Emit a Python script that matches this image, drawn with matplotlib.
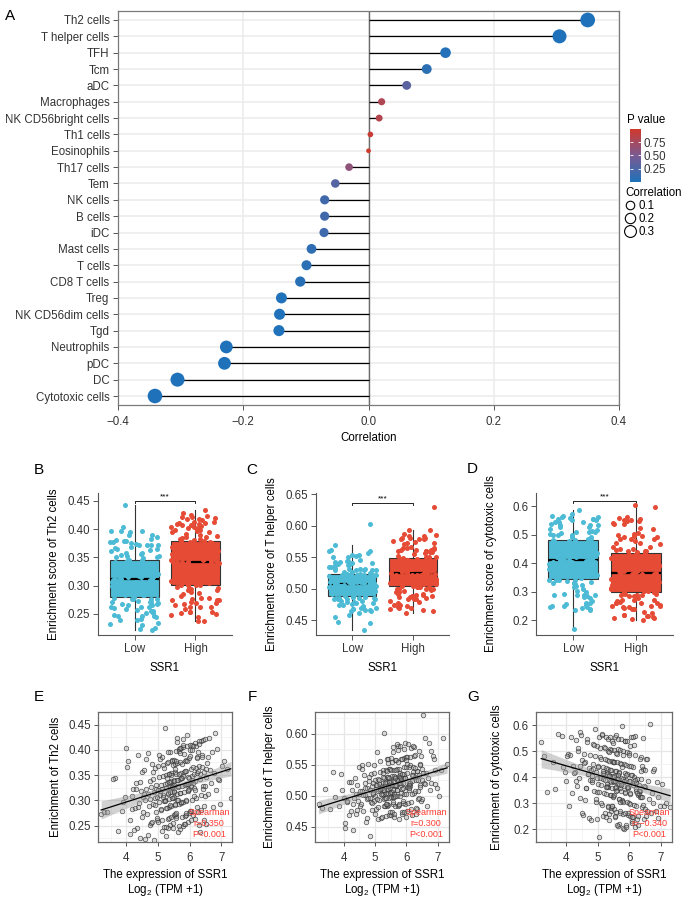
import numpy as np
import matplotlib
matplotlib.use("Agg")
import matplotlib.pyplot as plt
from matplotlib.colors import LinearSegmentedColormap
from matplotlib.lines import Line2D

plt.rcParams["font.family"] = ["Liberation Sans", "DejaVu Sans"]
plt.rcParams["font.size"] = 8.3
plt.rcParams["mathtext.fontset"] = "custom"
plt.rcParams["mathtext.rm"] = "Liberation Sans"
plt.rcParams["mathtext.it"] = "Liberation Sans"

# --- panel A : correlation of SSR1 with immune cells ---
cells = ["Th2 cells", "T helper cells", "TFH", "Tcm", "aDC", "Macrophages",
         "NK CD56bright cells", "Th1 cells", "Eosinophils", "Th17 cells", "Tem",
         "NK cells", "B cells", "iDC", "Mast cells", "T cells", "CD8 T cells",
         "Treg", "NK CD56dim cells", "Tgd", "Neutrophils", "pDC", "DC",
         "Cytotoxic cells"]
cell_corr = [0.350, 0.305, 0.123, 0.093, 0.061, 0.021, 0.017, 0.003, 0.000,
             -0.031, -0.053, -0.070, -0.070, -0.071, -0.091, -0.099, -0.109,
             -0.139, -0.142, -0.143, -0.227, -0.230, -0.305, -0.341]
cell_pval = [0.000, 0.000, 0.018, 0.070, 0.33, 0.80, 0.83, 0.95, 0.99,
             0.62, 0.30, 0.18, 0.18, 0.17, 0.09, 0.07, 0.05,
             0.007, 0.006, 0.006, 0.000, 0.000, 0.000, 0.000]

# --- SSR1 expression (log2 TPM+1), split at the median ---
ssr1_low = [
    3.20, 3.30, 3.65, 3.85, 3.95, 4.00, 4.05, 4.12, 4.18, 4.22,
    4.26, 4.30, 4.33, 4.37, 4.40, 4.42, 4.45, 4.48, 4.50, 4.53,
    4.55, 4.58, 4.60, 4.62, 4.65, 4.67, 4.69, 4.71, 4.73, 4.75,
    4.77, 4.79, 4.81, 4.83, 4.85, 4.86, 4.88, 4.90, 4.91, 4.93,
    4.95, 4.96, 4.98, 4.99, 5.01, 5.02, 5.04, 5.05, 5.06, 5.08,
    5.09, 5.11, 5.12, 5.13, 5.15, 5.16, 5.17, 5.19, 5.20, 5.21,
    5.22, 5.23, 5.24, 5.25, 5.26, 5.27, 5.28, 5.29, 5.30, 5.31,
    5.32, 5.33, 5.34, 5.34, 5.35, 5.36, 5.37, 5.38, 5.38, 5.39,
    5.40, 5.41, 5.42, 5.42, 5.43, 5.44, 5.45, 5.46, 5.46, 5.47,
    5.48, 5.49, 5.50, 5.50, 5.51, 5.52, 5.53, 5.54, 5.55, 5.56,
    3.40, 3.58, 3.72, 3.90, 4.03, 4.10, 4.16, 4.24, 4.31, 4.38,
    4.44, 4.51, 4.57, 4.63, 4.68, 4.74, 4.80, 4.84, 4.89, 4.94,
    4.97, 5.00, 5.03, 5.07, 5.10, 5.14, 5.18, 5.22, 5.25, 5.28,
    5.30, 5.33, 5.35, 5.37, 5.39, 5.41, 5.43, 5.45, 5.47, 5.49,
    5.51, 5.52, 5.53, 5.54, 5.55, 5.56, 5.44, 5.36, 5.26, 5.16]
ssr1_high = [
    5.57, 5.58, 5.59, 5.60, 5.61, 5.62, 5.63, 5.64, 5.65, 5.66,
    5.67, 5.68, 5.69, 5.70, 5.71, 5.72, 5.73, 5.74, 5.75, 5.76,
    5.77, 5.78, 5.79, 5.80, 5.81, 5.82, 5.83, 5.84, 5.85, 5.86,
    5.87, 5.88, 5.89, 5.90, 5.91, 5.92, 5.93, 5.94, 5.95, 5.96,
    5.97, 5.98, 5.99, 6.00, 6.01, 6.03, 6.04, 6.06, 6.08, 6.09,
    6.11, 6.13, 6.14, 6.16, 6.18, 6.19, 6.21, 6.23, 6.25, 6.27,
    6.29, 6.31, 6.33, 6.35, 6.37, 6.39, 6.41, 6.43, 6.45, 6.47,
    6.49, 6.51, 6.53, 6.56, 6.59, 6.62, 6.65, 6.68, 6.71, 6.74,
    6.77, 6.80, 6.84, 6.88, 6.92, 6.97, 7.03, 7.10, 7.18, 7.30,
    5.60, 5.70, 5.80, 5.90, 6.02, 6.12, 6.22, 6.32, 6.42, 6.52,
    5.57, 5.59, 5.61, 5.63, 5.65, 5.67, 5.69, 5.71, 5.73, 5.75,
    5.78, 5.81, 5.84, 5.87, 5.90, 5.93, 5.96, 5.99, 6.02, 6.05,
    6.08, 6.12, 6.15, 6.20, 6.24, 6.28, 6.34, 6.38, 6.44, 6.50,
    6.03, 6.10, 6.18, 6.22, 6.30, 6.36, 6.40, 6.46, 6.58, 6.90,
    5.58, 5.64, 5.72, 5.79, 5.86, 5.94, 6.00, 6.07, 6.17, 6.26]

# --- enrichment scores (same samples, same order) ---
th2_low = [
    0.272, 0.276, 0.344, 0.279, 0.306, 0.404, 0.377, 0.234, 0.283, 0.322,
    0.284, 0.334, 0.246, 0.389, 0.295, 0.225, 0.318, 0.356, 0.268, 0.307,
    0.361, 0.300, 0.224, 0.323, 0.273, 0.394, 0.312, 0.289, 0.339, 0.251,
    0.255, 0.327, 0.372, 0.293, 0.343, 0.316, 0.222, 0.304, 0.365, 0.277,
    0.330, 0.262, 0.307, 0.368, 0.258, 0.346, 0.296, 0.381, 0.319, 0.280,
    0.283, 0.386, 0.322, 0.261, 0.371, 0.310, 0.349, 0.248, 0.299, 0.333,
    0.443, 0.301, 0.351, 0.324, 0.230, 0.285, 0.373, 0.335, 0.263, 0.312,
    0.314, 0.375, 0.287, 0.353, 0.303, 0.265, 0.326, 0.396, 0.337, 0.252,
    0.355, 0.267, 0.339, 0.289, 0.379, 0.377, 0.316, 0.328, 0.245, 0.305,
    0.256, 0.330, 0.307, 0.318, 0.379, 0.341, 0.291, 0.357, 0.363, 0.269,
    0.276, 0.342, 0.240, 0.297, 0.367, 0.262, 0.308, 0.242, 0.322, 0.287,
    0.337, 0.277, 0.312, 0.382, 0.232, 0.302, 0.257, 0.357, 0.291, 0.323,
    0.265, 0.320, 0.390, 0.310, 0.331, 0.240, 0.365, 0.299, 0.285, 0.345,
    0.396, 0.246, 0.337, 0.291, 0.316, 0.351, 0.305, 0.326, 0.371, 0.271,
    0.317, 0.338, 0.292, 0.372, 0.272, 0.397, 0.327, 0.352, 0.247, 0.306]
th2_high = [
    0.265, 0.353, 0.423, 0.313, 0.374, 0.340, 0.238, 0.326, 0.401, 0.292,
    0.398, 0.315, 0.376, 0.342, 0.244, 0.294, 0.403, 0.355, 0.267, 0.328,
    0.344, 0.296, 0.405, 0.250, 0.357, 0.317, 0.392, 0.269, 0.330, 0.378,
    0.380, 0.271, 0.359, 0.298, 0.429, 0.407, 0.332, 0.346, 0.258, 0.319,
    0.322, 0.383, 0.274, 0.388, 0.335, 0.262, 0.362, 0.410, 0.301, 0.349,
    0.270, 0.352, 0.325, 0.338, 0.413, 0.365, 0.304, 0.386, 0.396, 0.277,
    0.369, 0.252, 0.342, 0.417, 0.281, 0.390, 0.329, 0.420, 0.356, 0.308,
    0.422, 0.347, 0.254, 0.374, 0.313, 0.424, 0.361, 0.334, 0.395, 0.286,
    0.354, 0.433, 0.320, 0.402, 0.341, 0.293, 0.368, 0.378, 0.362, 0.305,
    0.301, 0.404, 0.349, 0.274, 0.410, 0.335, 0.383, 0.237, 0.322, 0.362,
    0.274, 0.340, 0.416, 0.328, 0.353, 0.249, 0.394, 0.315, 0.296, 0.372,
    0.421, 0.254, 0.358, 0.301, 0.333, 0.377, 0.320, 0.345, 0.399, 0.279,
    0.341, 0.366, 0.309, 0.407, 0.287, 0.418, 0.353, 0.385, 0.262, 0.328,
    0.329, 0.408, 0.263, 0.354, 0.412, 0.310, 0.367, 0.288, 0.386, 0.342,
    0.377, 0.301, 0.345, 0.409, 0.254, 0.333, 0.279, 0.399, 0.320, 0.358]
thelper_low = [
    0.486, 0.480, 0.539, 0.484, 0.510, 0.496, 0.447, 0.490, 0.522, 0.476,
    0.509, 0.445, 0.497, 0.529, 0.471, 0.517, 0.491, 0.546, 0.503, 0.483,
    0.487, 0.550, 0.507, 0.475, 0.533, 0.501, 0.521, 0.458, 0.495, 0.513,
    0.552, 0.497, 0.523, 0.509, 0.435, 0.489, 0.535, 0.515, 0.477, 0.503,
    0.505, 0.537, 0.491, 0.525, 0.499, 0.479, 0.511, 0.570, 0.517, 0.462,
    0.527, 0.481, 0.519, 0.493, 0.556, 0.539, 0.507, 0.513, 0.464, 0.501,
    0.466, 0.515, 0.503, 0.509, 0.541, 0.521, 0.495, 0.529, 0.602, 0.483,
    0.516, 0.496, 0.542, 0.467, 0.522, 0.504, 0.559, 0.484, 0.510, 0.530,
    0.505, 0.531, 0.485, 0.560, 0.511, 0.468, 0.523, 0.543, 0.497, 0.517,
    0.544, 0.512, 0.469, 0.524, 0.498, 0.561, 0.518, 0.506, 0.532, 0.486,
    0.511, 0.479, 0.498, 0.535, 0.455, 0.492, 0.468, 0.522, 0.487, 0.503,
    0.477, 0.507, 0.544, 0.501, 0.512, 0.464, 0.531, 0.496, 0.488, 0.520,
    0.550, 0.470, 0.518, 0.494, 0.507, 0.526, 0.502, 0.513, 0.537, 0.483,
    0.510, 0.521, 0.497, 0.540, 0.486, 0.553, 0.516, 0.529, 0.473, 0.505,
    0.506, 0.541, 0.474, 0.517, 0.554, 0.498, 0.522, 0.487, 0.530, 0.511]
thelper_high = [
    0.579, 0.509, 0.542, 0.524, 0.465, 0.498, 0.557, 0.531, 0.483, 0.516,
    0.517, 0.558, 0.499, 0.543, 0.510, 0.484, 0.525, 0.580, 0.532, 0.462,
    0.544, 0.485, 0.533, 0.500, 0.581, 0.559, 0.518, 0.526, 0.470, 0.511,
    0.473, 0.528, 0.513, 0.520, 0.561, 0.535, 0.502, 0.546, 0.586, 0.487,
    0.529, 0.503, 0.562, 0.466, 0.536, 0.514, 0.584, 0.488, 0.521, 0.547,
    0.516, 0.549, 0.490, 0.578, 0.523, 0.468, 0.538, 0.564, 0.505, 0.531,
    0.566, 0.525, 0.478, 0.540, 0.507, 0.572, 0.533, 0.518, 0.551, 0.492,
    0.495, 0.543, 0.630, 0.521, 0.593, 0.536, 0.483, 0.528, 0.585, 0.510,
    0.572, 0.520, 0.565, 0.560, 0.519, 0.512, 0.500, 0.541, 0.593, 0.552,
    0.503, 0.584, 0.529, 0.488, 0.562, 0.521, 0.547, 0.470, 0.514, 0.536,
    0.571, 0.471, 0.532, 0.500, 0.517, 0.542, 0.510, 0.525, 0.555, 0.487,
    0.521, 0.536, 0.504, 0.559, 0.491, 0.575, 0.529, 0.546, 0.475, 0.514,
    0.518, 0.563, 0.479, 0.533, 0.579, 0.508, 0.540, 0.495, 0.550, 0.525,
    0.551, 0.509, 0.534, 0.580, 0.480, 0.526, 0.496, 0.564, 0.519, 0.541,
    0.490, 0.528, 0.574, 0.520, 0.535, 0.474, 0.558, 0.513, 0.503, 0.545]
cyto_low = [
    0.535, 0.482, 0.355, 0.558, 0.420, 0.385, 0.490, 0.486, 0.340, 0.441,
    0.421, 0.544, 0.365, 0.499, 0.398, 0.320, 0.443, 0.562, 0.466, 0.253,
    0.490, 0.311, 0.457, 0.356, 0.545, 0.535, 0.412, 0.434, 0.244, 0.389,
    0.236, 0.426, 0.381, 0.404, 0.527, 0.449, 0.348, 0.482, 0.586, 0.303,
    0.420, 0.342, 0.521, 0.240, 0.443, 0.375, 0.552, 0.170, 0.398, 0.476,
    0.370, 0.471, 0.292, 0.560, 0.393, 0.250, 0.438, 0.516, 0.337, 0.415,
    0.512, 0.389, 0.262, 0.434, 0.333, 0.555, 0.411, 0.366, 0.467, 0.288,
    0.284, 0.430, 0.545, 0.362, 0.463, 0.407, 0.258, 0.385, 0.508, 0.329,
    0.427, 0.268, 0.382, 0.505, 0.281, 0.460, 0.359, 0.538, 0.404, 0.326,
    0.323, 0.532, 0.401, 0.278, 0.502, 0.379, 0.457, 0.246, 0.356, 0.424,
    0.342, 0.457, 0.565, 0.437, 0.479, 0.287, 0.552, 0.415, 0.384, 0.510,
    0.572, 0.260, 0.452, 0.357, 0.410, 0.483, 0.388, 0.430, 0.525, 0.315,
    0.395, 0.437, 0.342, 0.510, 0.300, 0.565, 0.415, 0.468, 0.245, 0.373,
    0.363, 0.500, 0.235, 0.405, 0.555, 0.332, 0.427, 0.290, 0.458, 0.385,
    0.456, 0.330, 0.403, 0.553, 0.250, 0.383, 0.288, 0.498, 0.361, 0.425]
cyto_high = [
    0.266, 0.422, 0.560, 0.350, 0.458, 0.398, 0.210, 0.374, 0.506, 0.314,
    0.419, 0.220, 0.371, 0.503, 0.263, 0.455, 0.347, 0.548, 0.395, 0.311,
    0.307, 0.597, 0.391, 0.259, 0.499, 0.367, 0.451, 0.200, 0.343, 0.415,
    0.540, 0.339, 0.447, 0.387, 0.215, 0.303, 0.495, 0.411, 0.255, 0.363,
    0.359, 0.491, 0.299, 0.443, 0.335, 0.251, 0.383, 0.552, 0.407, 0.230,
    0.437, 0.245, 0.401, 0.293, 0.557, 0.485, 0.353, 0.377, 0.240, 0.329,
    0.250, 0.370, 0.322, 0.346, 0.478, 0.394, 0.286, 0.430, 0.550, 0.238,
    0.362, 0.278, 0.470, 0.270, 0.386, 0.314, 0.604, 0.260, 0.338, 0.422,
    0.300, 0.430, 0.270, 0.380, 0.324, 0.290, 0.372, 0.288, 0.300, 0.285,
    0.490, 0.358, 0.205, 0.406, 0.298, 0.555, 0.382, 0.334, 0.442, 0.250,
    0.348, 0.494, 0.217, 0.393, 0.547, 0.314, 0.416, 0.270, 0.450, 0.371,
    0.440, 0.304, 0.383, 0.537, 0.207, 0.361, 0.260, 0.484, 0.338, 0.406,
    0.247, 0.370, 0.524, 0.348, 0.393, 0.215, 0.471, 0.325, 0.291, 0.427,
    0.521, 0.225, 0.390, 0.288, 0.345, 0.424, 0.322, 0.367, 0.468, 0.244,
    0.362, 0.407, 0.305, 0.485, 0.261, 0.538, 0.384, 0.441, 0.208, 0.339]

spearman_r = ["0.350", "0.300", "\u22120.340"]
group_labels = ["Low", "High"]

W, H = 690, 897


def px_box(l, t, r, b):
    return [l / W, 1 - b / H, (r - l) / W, (b - t) / H]


def jitter(n, seed, half=0.4):
    # deterministic hash-style jitter, positions only
    i = np.arange(n, dtype=float)
    u = np.sin(i * 127.1 + seed * 311.7 + i * i * 0.0137) * 43758.5453
    return (u - np.floor(u) - 0.5) * 2 * half


fig = plt.figure(figsize=(W / 100, H / 100), dpi=100)
txt_col = "#333333"

# ---------------- A : lollipop ----------------
pcmap = LinearSegmentedColormap.from_list("pv", ["#1F72BA", "#7A5A92", "#D0392B"])
axA = fig.add_axes(px_box(118, 11, 619, 405))
n = len(cells)
ypos = np.arange(n)[::-1]
axA.set_xlim(-0.4, 0.4)
axA.set_ylim(-0.55, n - 0.45)
axA.set_yticks(ypos)
axA.set_yticklabels(cells)
axA.set_xticks([-0.4, -0.2, 0.0, 0.2, 0.4])
axA.set_xticklabels(["\u22120.4", "\u22120.2", "0.0", "0.2", "0.4"])
axA.grid(True, color="#EBEBEB", lw=1.1)
axA.set_axisbelow(True)
axA.axvline(0, color="#6b6b6b", lw=1.0, zorder=1.5)
axA.hlines(ypos, 0, cell_corr, color="black", lw=0.9, zorder=2)
dot_px = 4.7 + 16.9 * np.sqrt(np.abs(cell_corr))
sc = axA.scatter(cell_corr, ypos, s=(dot_px * 0.72) ** 2, c=cell_pval, cmap=pcmap,
                 vmin=0, vmax=1, zorder=3, linewidths=0)
for sp in axA.spines.values():
    sp.set_color("#7a7a7a")
    sp.set_linewidth(0.9)
axA.tick_params(length=3.6, width=0.7, color="#555555", labelcolor=txt_col)
axA.tick_params(axis="y", pad=2.5)
axA.tick_params(axis="x", pad=4.5)
axA.set_xlabel("Correlation")
axA.xaxis.set_label_coords(0.5, -0.068)

# legend: colour bar + size key
fig.text(627 / W, 1 - 120 / H, "P value", ha="left", va="center")
cax = fig.add_axes(px_box(630, 129, 641, 182))
cb = fig.colorbar(sc, cax=cax)
cb.set_ticks([0.25, 0.50, 0.75])
cb.set_ticklabels(["0.25", "0.50", "0.75"])
cb.outline.set_visible(False)
cax.tick_params(length=2.5, width=0.6, color="white", direction="in",
                left=True, right=True, labelcolor=txt_col, pad=2)
size_keys = [0.1, 0.2, 0.3]
handles = [Line2D([], [], ls="", marker="o", markerfacecolor="none",
                  markeredgecolor="black", markeredgewidth=0.8,
                  markersize=0.85 * (4.7 + 16.9 * np.sqrt(v)) * 0.72) for v in size_keys]
fig.legend(handles, [f"{v:.1f}" for v in size_keys], title="Correlation",
           loc="upper left", bbox_to_anchor=(625 / W, 1 - 187 / H), frameon=False,
           handlelength=0.9, handletextpad=0.25, labelspacing=0.1, borderpad=0,
           borderaxespad=0, alignment="left", fontsize=8.3, title_fontsize=8.3)

# ---------------- B-D : box plots ----------------
low_col, high_col = "#4DBBD5", "#E64B35"
box_specs = [
    (px_box(98, 493, 232, 635), th2_low, th2_high, (0.2129, 0.4636),
     [0.25, 0.30, 0.35, 0.40, 0.45], "{:.2f}", 0.450, "Enrichment score of Th2 cells", -0.287),
    (px_box(316, 493, 449, 635), thelper_low, thelper_high, (0.4267, 0.6516),
     [0.45, 0.50, 0.55, 0.60, 0.65], "{:.2f}", 0.636, "Enrichment score of T helper cells", -0.289),
    (px_box(536, 493, 673, 635), cyto_low, cyto_high, (0.1486, 0.6455),
     [0.2, 0.3, 0.4, 0.5, 0.6], "{:.1f}", 0.6185, "Enrichment score of cytotoxic cells", -0.285),
]
for j, (rect, lo, hi, ylim, yt, fmt, ybr, ylab, lx) in enumerate(box_specs):
    ax = fig.add_axes(rect)
    bp = ax.boxplot([lo, hi], positions=[1, 2], widths=0.8, patch_artist=True,
                    showfliers=False, showcaps=False, zorder=1,
                    medianprops=dict(color="black", lw=1.6),
                    whiskerprops=dict(color="#333333", lw=0.8),
                    boxprops=dict(edgecolor="#333333", lw=0.8))
    for patch, col in zip(bp["boxes"], [low_col, high_col]):
        patch.set_facecolor(col)
    for k, (vals, col) in enumerate(zip([lo, hi], [low_col, high_col])):
        jit = jitter(len(vals), 3 * j + k + 1)
        ax.scatter(k + 1 + jit, vals, s=13, color=col, linewidths=0, zorder=3)
    span = ylim[1] - ylim[0]
    tick_h = span * 0.018
    ax.plot([1, 1, 2, 2], [ybr - tick_h, ybr, ybr, ybr - tick_h], color="black", lw=0.6)
    ax.text(1.5, ybr + span * 0.002, "***", ha="center", va="bottom", fontsize=6)
    ax.set_xlim(0.4, 2.6)
    ax.set_ylim(*ylim)
    ax.set_yticks(yt)
    ax.set_yticklabels([fmt.format(v) for v in yt])
    ax.set_xticks([1, 2])
    ax.set_xticklabels(group_labels)
    for s_ in ("top", "right"):
        ax.spines[s_].set_visible(False)
    for s_ in ("left", "bottom"):
        ax.spines[s_].set_color("#555555")
        ax.spines[s_].set_linewidth(0.8)
    ax.tick_params(axis="x", length=3.5, width=0.7, color="#555555", labelcolor=txt_col, pad=2.5)
    ax.tick_params(axis="y", length=3.5, width=0.7, color="#555555", labelcolor=txt_col, pad=2.0)
    ax.set_xlabel("SSR1")
    ax.xaxis.set_label_coords(0.5, -0.19)
    ax.set_ylabel(ylab)
    ax.yaxis.set_label_coords(lx, 0.5)

# ---------------- E-G : scatter with fit ----------------
xs_all = np.array(ssr1_low + ssr1_high)
scat_specs = [
    (px_box(98, 712, 232, 842), th2_low + th2_high, (3.1, 7.34), (0.2175, 0.45),
     [0.25, 0.30, 0.35, 0.40, 0.45], "{:.2f}", "Enrichment of Th2 cells", -0.272, spearman_r[0]),
    (px_box(315, 712, 449, 842), thelper_low + thelper_high, (3.086, 7.36), (0.430, 0.6355),
     [0.45, 0.50, 0.55, 0.60], "{:.2f}", "Enrichment of T helper cells", -0.291, spearman_r[1]),
    (px_box(536, 712, 672, 842), cyto_low + cyto_high, (3.035, 7.36), (0.158, 0.616),
     [0.2, 0.3, 0.4, 0.5, 0.6], "{:.1f}", "Enrichment of cytotoxic cells", -0.239, spearman_r[2]),
]
for rect, yv, xlim, ylim, yt, fmt, ylab, lx, rtxt in scat_specs:
    ax = fig.add_axes(rect)
    y = np.array(yv)
    x = xs_all
    ax.scatter(x, y, s=11, facecolors=(0.62, 0.62, 0.62, 0.35),
               edgecolors=(0.2, 0.2, 0.2, 0.85), linewidths=0.5, zorder=2)
    b, a = np.polyfit(x, y, 1)
    xx = np.linspace(x.min(), x.max(), 80)
    fit = a + b * xx
    resid = y - (a + b * x)
    sd = np.sqrt(np.sum(resid ** 2) / (len(x) - 2))
    se = sd * np.sqrt(1 / len(x) + (xx - x.mean()) ** 2 / np.sum((x - x.mean()) ** 2))
    ax.fill_between(xx, fit - 1.97 * se, fit + 1.97 * se, color="#9a9a9a", alpha=0.45,
                    lw=0, zorder=3)
    ax.plot(xx, fit, color="black", lw=0.9, zorder=4)
    ax.set_xlim(*xlim)
    ax.set_ylim(*ylim)
    ax.set_xticks([4, 5, 6, 7])
    ax.set_xticks([3.5, 4.5, 5.5, 6.5], minor=True)
    ax.set_yticks(yt)
    step = yt[1] - yt[0]
    ax.set_yticks([v + step / 2 for v in [yt[0] - step] + yt], minor=True)
    ax.set_yticklabels([fmt.format(v) for v in yt])
    ax.grid(True, which="major", color="#E6E6E6", lw=0.9)
    ax.grid(True, which="minor", color="#F0F0F0", lw=0.5)
    ax.set_axisbelow(True)
    for sp in ax.spines.values():
        sp.set_color("#6a6a6a")
        sp.set_linewidth(0.9)
    ax.tick_params(which="minor", length=0)
    ax.tick_params(axis="x", length=3, width=0.7, color="#555555", labelcolor=txt_col, pad=4)
    ax.tick_params(axis="y", length=3, width=0.7, color="#555555", labelcolor=txt_col, pad=2)
    ax.text(0.985, 0.02, "Spearman\nr=" + rtxt + "\nP<0.001", transform=ax.transAxes,
            ha="right", va="bottom", multialignment="center", color="#FF3B30",
            fontsize=6.5, linespacing=1.3, zorder=5)
    ax.set_xlabel("The expression of SSR1\nLog$_2$ (TPM +1)", linespacing=1.15)
    ax.xaxis.set_label_coords(0.5, -0.205)
    ax.set_ylabel(ylab)
    ax.yaxis.set_label_coords(lx, 0.5)

# panel letters
for lab, px, py in [("A", 10, 16), ("B", 39, 470), ("C", 252, 470), ("D", 472, 469),
                    ("E", 39, 697), ("F", 252, 697), ("G", 473, 697)]:
    fig.text(px / W, 1 - py / H, lab, fontsize=11, ha="center", va="center")

fig.savefig("out.png", dpi=100)
